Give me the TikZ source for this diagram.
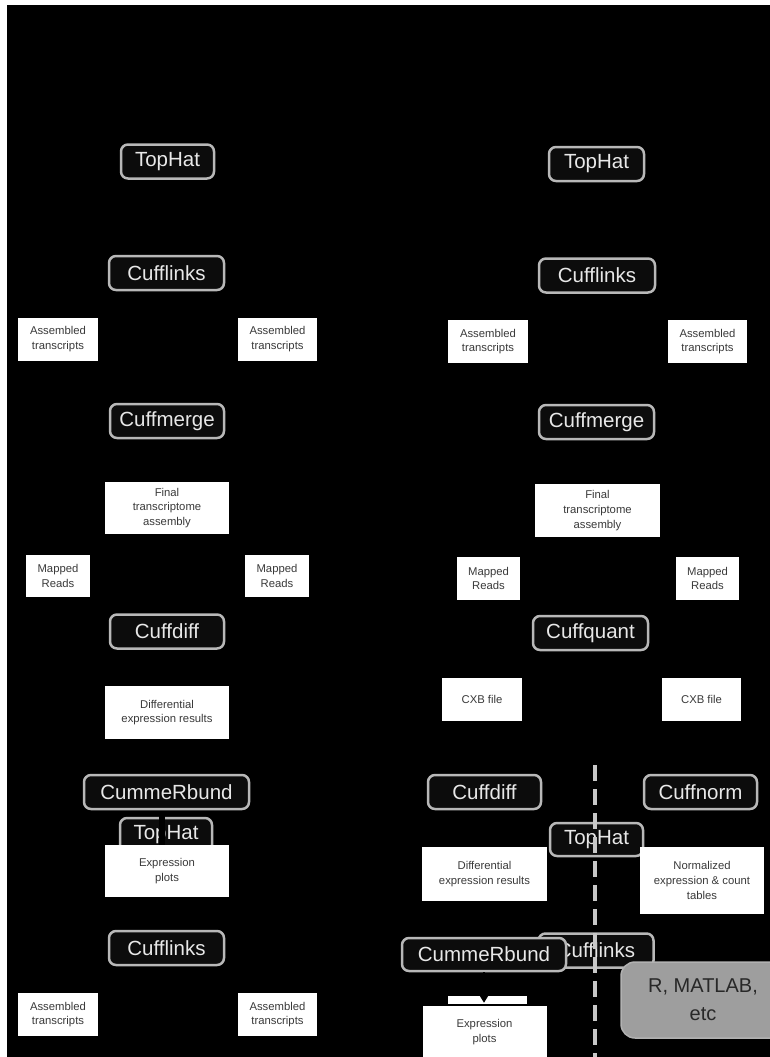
\documentclass[tikz,border=0pt]{standalone}
\usepackage{fontspec}
\setmainfont{Liberation Sans}
\usepackage{xcolor}
\definecolor{tool-border}{RGB}{184,184,184}
\definecolor{tool-text}{RGB}{232,232,232}
\definecolor{tool-fill}{RGB}{12,12,12}
\definecolor{file-text}{RGB}{58,58,58}
\definecolor{note-fill}{RGB}{158,158,158}
\definecolor{note-text}{RGB}{40,40,40}
\definecolor{split-line}{RGB}{200,200,200}
\usetikzlibrary{positioning,arrows.meta}

\begin{document}
\begin{tikzpicture}[x=1pt, y=-1pt,
    tool box/.style={rounded corners=7pt, draw=tool-border, fill=tool-fill, line width=2.5pt, text=tool-text, font=\fontsize{20.5}{24}\selectfont, inner sep=0pt, minimum height=34pt, minimum width=#1},
    file box/.style={fill=white, text=file-text, font=\fontsize{11.3}{14.7}\selectfont, align=center, inner sep=0pt, minimum height=43pt, minimum width=#1},
    note box/.style={rounded corners=14pt, fill=note-fill, draw=note-fill!80!white, line width=1.5pt, text=note-text, font=\fontsize{20}{28}\selectfont, align=center, inner sep=0pt, minimum width=164pt, minimum height=76pt}
]

% Page: thin white margin, black slide
\fill[white] (0,0) rectangle (770,1057);
\fill[black] (7,5) rectangle (770,1057);
\useasboundingbox (0,0) rectangle (770,1057);

% Left column
\node[tool box=93] (tophatL) at (167.5,161.5) {TopHat};
\node[tool box=115] (cufflinksL) at (166.5,273) {Cufflinks};
\node[file box=80] (asmLa) at (58,339) {Assembled\\transcripts};
\node[file box=79] (asmLb) at (277.5,339) {Assembled\\transcripts};
\node[tool box=114] (cuffmergeL) at (167,421) {Cuffmerge};
\node[file box=124, minimum height=52pt] (finalL) at (167,508) {Final\\transcriptome\\assembly};
\node[file box=64, minimum height=42pt] (readsLa) at (58,576) {Mapped\\Reads};
\node[file box=64, minimum height=42pt] (readsLb) at (277,576) {Mapped\\Reads};
\node[tool box=114] (cuffdiffL) at (167,631.5) {Cuffdiff};
\node[file box=124, minimum height=53pt] (diffL) at (167,712.5) {Differential\\expression results};
\node[tool box=165] (cummeL) at (166.5,792) {CummeRbund};
\node[tool box=92] (tophatL2) at (166,835) {TopHat};
\node[file box=124, minimum height=52pt] (plotsL) at (167,871) {Expression\\plots};
\draw[black, line width=6pt, shorten <=1.5pt] ([xshift=-5pt]cummeL.south) -- ([xshift=-5pt]cummeL.south |- plotsL.north);
\node[tool box=115] (cufflinksL2) at (166.5,948) {Cufflinks};
\node[file box=80] (asmLc) at (58,1014.5) {Assembled\\transcripts};
\node[file box=79] (asmLd) at (277.5,1014.5) {Assembled\\transcripts};

% Right column
\node[tool box=95] (tophatR) at (596.5,164) {TopHat};
\node[tool box=116] (cufflinksR) at (597,275.5) {Cufflinks};
\node[file box=80] (asmRa) at (488,341.5) {Assembled\\transcripts};
\node[file box=79] (asmRb) at (707.5,341.5) {Assembled\\transcripts};
\node[tool box=115] (cuffmergeR) at (596.5,422) {Cuffmerge};
\node[file box=125, minimum height=53pt] (finalR) at (597.5,510.5) {Final\\transcriptome\\assembly};
\node[file box=63] (readsRa) at (488.5,578.5) {Mapped\\Reads};
\node[file box=63] (readsRb) at (707.5,578.5) {Mapped\\Reads};
\node[tool box=115] (cuffquantR) at (590.5,633) {Cuffquant};
\node[file box=80] (cxbRa) at (482,699.5) {CXB file};
\node[file box=79] (cxbRb) at (701.5,699.5) {CXB file};
\node[tool box=113] (cuffdiffR) at (484.5,792) {Cuffdiff};
\node[tool box=113] (cuffnormR) at (700.5,792) {Cuffnorm};
\node[tool box=93, minimum height=33pt] (tophatR2) at (596.5,839.5) {TopHat};
\node[file box=125, minimum height=54pt] (diffR) at (484.5,874) {Differential\\expression results};
\node[file box=124, minimum height=67pt] (normR) at (702,880.5) {Normalized\\expression \& count\\tables};
\node[tool box=115] (cufflinksR2) at (596,950.5) {Cufflinks};

% Dashed split between the two branches
\coordinate (split top) at (595,765);
\coordinate (split bottom) at (595,1057);
\draw[split-line, line width=4pt, dash pattern=on 16pt off 8pt] (split top) -- (split bottom);

\node[tool box=164, minimum height=33pt] (cummeR) at (484,954.5) {CummeRbund};
\node[note box] (toolsR) at (703,1000) {R, MATLAB,\\etc};
\node[fill=white, inner sep=0pt, minimum width=79pt, minimum height=8pt] (stripR) at (487.5,1000) {};
\node[file box=124, minimum height=52pt] (plotsR) at (484.5,1032) {Expression\\plots};
\draw[-{Triangle[width=8pt,length=7pt]}, black, line width=2pt, shorten >=3pt] (cummeR.south) -- (cummeR.south |- plotsR.north);

\end{tikzpicture}
\end{document}
